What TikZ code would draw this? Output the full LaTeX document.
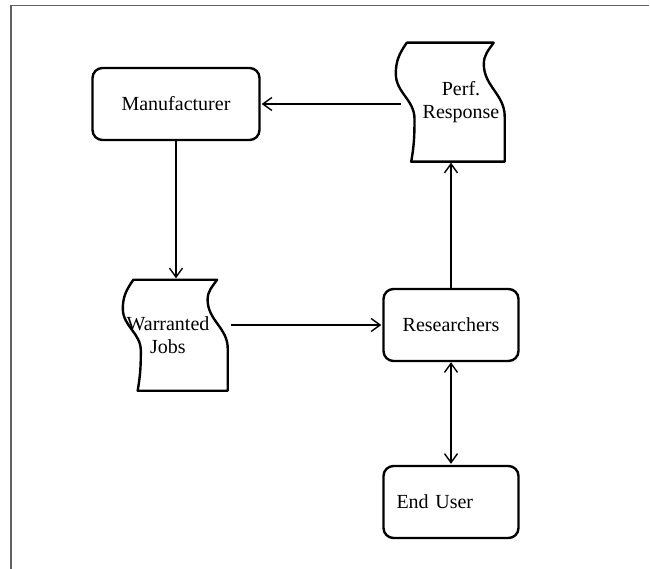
\documentclass[tikz,border=0pt]{standalone}
\usepackage{fontspec}
\setmainfont{Liberation Serif}
\usetikzlibrary{positioning,arrows.meta}

\tikzset{
  box/.style={draw,rounded corners=10pt,line width=2.4pt,minimum width=135pt,minimum height=72pt,font=\fontsize{20}{23.5}\selectfont},
  tape/.style={align=center,inner sep=0pt,font=\fontsize{20}{23.5}\selectfont},
  tapeline/.style={line width=2.4pt,line join=round},
  flow/.style={line width=1.4pt},
  frame/.style={draw=black!62,line width=1.6pt}
}

% wavy outline round a tape node: name, width, height
\newcommand\tapeoutline[3]{%
  \draw[tapeline,shift={(#1.south west)},x={(#2pt/100,0pt)},y={(0pt,#3pt/100)}]
    (10,100) -- (89,100) to[out=-125,in=90] (80,82) to[out=-90,in=90] (99,38) -- (99,0)
    -- (14,0) to[out=80,in=-90] (17,36) to[out=90,in=-90] (0,74) to[out=90,in=-125] (10,100) -- cycle;}

\begin{document}
\begin{tikzpicture}[x=1pt,y=-1pt,shorten >=1pt,on grid,>={Straight Barb[length=9pt,width=13pt]}]
    \useasboundingbox (0,0) rectangle (650,569);
    \draw[frame] (11,569) -- (11,5.5) -- (650,5.5);

    \node[box,minimum width=167pt] (man) at (176,104) {Manufacturer};
    \node[tape,minimum width=106pt,minimum height=111pt] (wj) [below=231pt of man] {Warranted\hspace*{16pt}\\Jobs\hspace*{16pt}};
    \node[box] (res) at (451,325) {Researchers};
    \node[tape,minimum width=110pt,minimum height=119pt] (perf) [above=223pt of res] {\hspace*{20pt}Perf.\\\hspace*{20pt}Response};
    \node[box,text width=109pt,align=left,inner xsep=12pt] (eu) [below=177pt of res] {End User};

    \tapeoutline{wj}{106}{111}
    \tapeoutline{perf}{110}{119}

    \path[flow]
    (perf.west |- man.east) edge [->,shorten <=-5pt] (man.east)
    (man.south) edge [->] (wj.north)
    (res.west -| wj.east) edge [->,shorten <=2pt] (res.west)
    (res.north) edge [->] (perf.south)
    (res.south) edge [<->] (eu.north)
    ;
\end{tikzpicture}
\end{document}
